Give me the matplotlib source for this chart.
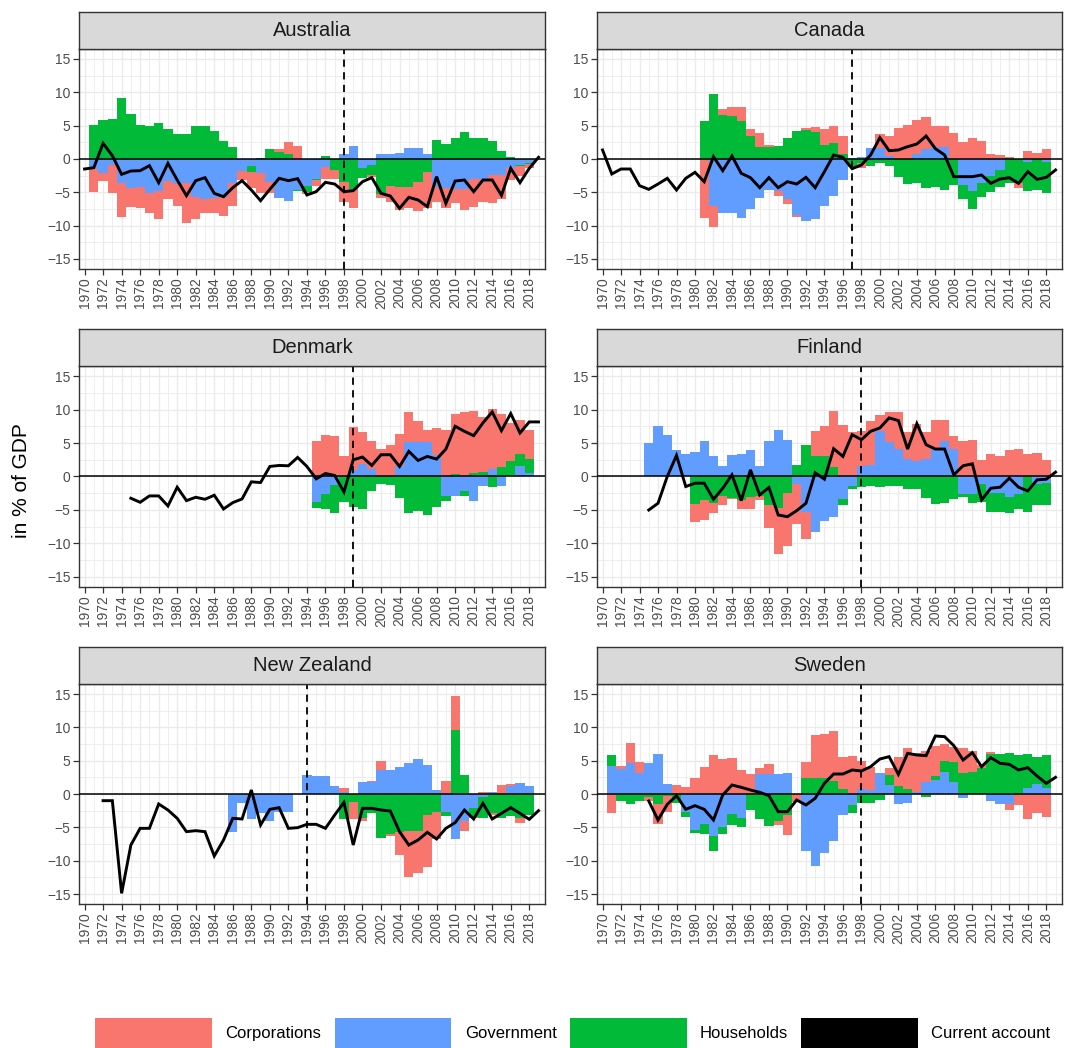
import numpy as np
import matplotlib
matplotlib.use("Agg")
import matplotlib.pyplot as plt
from matplotlib.patches import Patch

plt.rcParams['font.family'] = ['Liberation Sans', 'DejaVu Sans']

# ---- data (in % of GDP) ----
AUS_BAR_START = 1971
AUS_CORP = [-3.4, -1.25, -4.15, -5.0, -2.85, -3.1, -2.9, -4.2, -2.75, -3.25,
            -6.0, -3.3, -2.1, -2.25, -2.9, -3.45, -1.35, -2.4, -3.0, -1.7,
            0.4, 1.85, 1.95, -0.3, -0.85, -1.9, -1.4, -3.0, -2.8, 0.0,
            -0.35, -0.55, -2.35, -3.5, -3.25, -4.35, -5.5, -2.2, -2.9, -2.1,
            -3.1, -4.1, -3.35, -4.15, -3.6, -1.85, -1.5, -0.7]
AUS_GOV = [-1.5, -2.05, -0.9, -3.65, -4.3, -4.2, -5.15, -4.8, -3.3, -3.75,
           -3.65, -5.75, -6.05, -5.8, -5.7, -3.55, -1.8, -1.05, -2.15, -3.45,
           -5.8, -6.25, -4.6, -4.1, -3.0, -1.15, 0.0, 0.7, 1.95, -1.3,
           -0.95, 0.7, 0.7, 0.85, 1.6, 1.6, 0.75, -4.2, -4.4, -4.55,
           -4.55, -3.05, -3.05, -2.4, -2.4, -1.3, -0.9, -0.55]
AUS_HH = [5.1, 5.85, 6.0, 9.15, 6.75, 5.1, 4.95, 5.4, 4.5, 3.75,
          3.75, 5.0, 5.0, 4.25, 2.75, 1.8, 0.0, -0.85, 0.1, 1.5,
          1.1, 0.75, -0.15, -0.9, -0.15, 0.45, -1.65, -3.4, -4.5, -1.6,
          -1.45, -5.25, -4.05, -4.15, -4.15, -3.4, -1.9, 2.85, 2.25, 3.2,
          4.05, 3.15, 3.15, 2.75, 1.2, 0.3, -0.15, -0.15]
AUS_CA_START = 1970
AUS_CA = [-1.5, -1.3, 2.35, 0.5, -2.3, -1.8, -1.75, -1.0, -3.55, -0.65,
          -3.15, -5.5, -3.25, -2.8, -5.15, -5.65, -4.3, -3.25, -4.65, -6.25,
          -4.55, -2.9, -3.25, -2.95, -5.4, -4.9, -3.5, -3.75, -4.9, -4.75,
          -3.4, -2.8, -5.15, -5.55, -7.4, -5.75, -6.15, -7.15, -2.65, -6.65,
          -3.3, -3.15, -4.9, -3.15, -3.15, -5.45, -1.4, -3.55, -1.4, 0.25]

CAN_BAR_START = 1981
CAN_CORP = [-8.8, -3.15, 0.9, 1.35, 2.1, 1.0, 2.05, 0.3, -0.75, -0.7,
            -0.25, 0.2, 0.7, 2.35, 2.6, 2.7, 0.0, -0.7, 0.0, 2.1,
            3.1, 4.6, 5.1, 5.1, 4.75, 3.2, 3.2, 3.85, 2.6, 3.15,
            2.7, 0.75, 0.6, 0.25, -0.65, 1.2, 0.85, 1.5]
CAN_GOV = [0.0, -7.0, -8.05, -8.05, -8.8, -7.5, -5.8, -4.65, -4.8, -6.05,
           -8.4, -9.25, -9.0, -7.0, -5.5, -3.15, 0.1, 0.3, 1.6, 1.6,
           0.4, 0.0, 0.0, 0.75, 1.5, 1.75, 1.75, 0.0, -3.9, -4.8,
           -3.55, -2.55, -1.65, 0.0, 0.0, -0.5, 0.0, -0.4]
CAN_HH = [5.7, 9.75, 6.6, 6.45, 5.7, 3.5, 1.85, 1.85, 1.95, 3.15,
          4.2, 4.4, 4.05, 2.1, 2.35, 0.75, -1.2, -0.6, -1.05, -0.55,
          -1.05, -2.75, -3.75, -3.55, -4.4, -4.15, -4.65, -3.9, -2.15, -2.7,
          -2.2, -2.35, -2.6, -3.65, -3.65, -4.35, -4.65, -4.65]
CAN_CA_START = 1970
CAN_CA = [1.35, -2.25, -1.5, -1.5, -4.0, -4.55, -3.75, -2.9, -4.65, -2.9,
          -2.0, -3.4, 0.35, -1.75, 0.45, -2.15, -2.8, -4.3, -2.8, -4.3,
          -3.4, -3.75, -2.75, -4.3, -1.9, 0.6, 0.25, -1.45, -0.9, 0.6,
          3.2, 1.25, 1.35, 1.85, 2.25, 3.45, 1.55, 0.6, -2.65, -2.65,
          -2.65, -2.4, -3.65, -3.0, -2.8, -3.65, -1.9, -3.05, -2.75, -1.65]

DNK_BAR_START = 1995
DNK_CORP = [5.35, 6.25, 6.1, 3.1, 6.35, 4.7, 4.15, 4.1, 4.75, 4.9,
            4.55, 3.25, 1.9, 4.0, 7.0, 9.0, 9.65, 9.35, 8.2, 8.95,
            8.05, 5.75, 5.0, 4.4]
DNK_GOV = [-3.8, -2.6, -1.25, 0.0, 1.0, 1.9, 1.1, 0.0, 0.0, 1.5,
           5.1, 5.1, 5.1, 3.25, -2.85, -2.85, -2.15, -3.6, -1.35, 1.15,
           -1.35, 0.0, 1.6, 0.5]
DNK_HH = [-0.85, -2.3, -4.15, -3.75, -4.5, -4.9, -2.1, -1.1, -1.25, -3.25,
          -5.4, -5.15, -5.75, -4.5, -0.75, 0.4, -0.7, 0.5, 0.7, -1.5,
          1.35, 2.25, 1.8, 2.1]
DNK_CA_START = 1975
DNK_CA = [-3.25, -3.85, -2.9, -2.9, -4.4, -1.6, -3.6, -3.1, -3.4, -2.8,
          -4.85, -3.9, -3.35, -0.8, -0.9, 1.5, 1.65, 1.6, 2.85, 1.5,
          -0.35, 0.45, 0.15, -2.3, 2.5, 2.9, 1.65, 3.25, 3.25, 1.5,
          3.75, 2.4, 3.0, 2.6, 4.1, 7.5, 6.75, 6.1, 8.0, 9.65,
          6.85, 9.4, 6.5, 8.15, 8.15]

FIN_BAR_START = 1975
FIN_CORP = [0.0, 0.0, 0.0, 0.0, 0.0, -2.65, -3.0, -1.5, -1.35, -0.1,
            -1.4, -1.85, -0.6, -3.4, -6.85, -7.85, -6.05, -4.05, 3.65, 4.4,
            8.4, 7.75, 6.6, 5.15, 6.55, 2.4, 4.5, 5.45, 3.95, 5.65,
            3.95, 4.35, 3.2, 2.0, 5.25, 5.5, 2.5, 3.35, 3.1, 4.0,
            4.15, 3.4, 3.5, 2.5]
FIN_GOV = [5.0, 7.6, 6.25, 3.9, 3.4, 3.7, 5.25, 3.1, 1.6, 3.25,
           3.4, 3.9, 1.6, 5.25, 6.9, 5.4, -1.1, -5.35, -8.25, -6.6,
           -6.0, -3.4, -1.4, 1.6, 1.7, 6.85, 5.1, 4.15, 2.65, 2.25,
           2.65, 4.1, 5.25, 4.1, -2.6, -2.6, -1.1, -2.5, -2.5, -3.0,
           -2.6, 0.0, -1.1, -1.0]
FIN_HH = [0.0, 0.0, 0.0, 0.0, 0.0, -4.1, -3.5, -3.9, -2.9, -3.25,
          -3.5, -3.0, -2.9, -4.25, -4.65, -2.5, 1.75, 4.75, 3.1, 3.1,
          1.35, -0.85, -0.45, -1.6, -1.35, -1.6, -1.35, -1.35, -1.85, -1.85,
          -3.25, -4.1, -3.9, -3.35, -0.4, -1.4, -2.65, -2.75, -2.75, -2.4,
          -2.3, -5.25, -3.15, -3.25]
FIN_CA_START = 1975
FIN_CA = [-5.0, -4.0, 0.0, 3.15, -1.5, -1.0, -1.0, -3.4, -1.75, 0.25,
          -3.6, 1.0, -2.75, -1.65, -5.75, -6.0, -5.1, -4.0, 0.55, -0.4,
          4.15, 3.0, 6.25, 5.5, 6.75, 7.25, 8.75, 8.35, 4.1, 7.9,
          4.75, 4.1, 4.1, 0.25, 1.6, 1.9, -3.5, -1.75, -1.6, -0.25,
          -1.6, -2.15, -0.5, -0.4, 0.65]

NZL_BAR_START = 1986
NZL_CORP = [0.0, 0.0, 0.0, 0.0, 0.0, 0.0, 0.0, 0.0, 0.0, 0.0,
            0.0, 0.0, 0.6, -2.5, -0.35, 0.2, 1.35, -0.2, -3.5, -6.9,
            -6.3, -7.75, -4.15, 1.95, 5.1, -1.5, -0.15, 0.25, -0.35, 1.35,
            0.3, -0.75, 0.0]
NZL_GOV = [-5.65, -1.3, -3.8, -2.8, -4.0, -2.65, -2.65, 0.0, 2.85, 2.7,
           2.7, 1.2, 0.25, 0.0, 1.85, 1.75, 3.6, 3.6, 4.1, 4.7,
           5.25, 4.35, 0.6, -2.65, -6.8, -4.0, -2.15, -0.4, 0.25, 0.0,
           1.2, 1.6, 1.2]
NZL_HH = [0.0, 0.0, 0.0, 0.0, 0.0, 0.0, 0.0, 0.0, 0.0, 0.0,
          0.0, 0.0, -3.75, -1.2, -3.65, -2.9, -6.55, -6.05, -5.65, -5.5,
          -5.5, -3.15, -2.65, -0.6, 9.6, 2.85, -1.25, -3.15, -2.8, -3.55,
          -3.25, -3.55, -3.15]
NZL_CA_START = 1972
NZL_CA = [-1.0, -1.0, -14.9, -7.65, -5.15, -5.15, -1.5, -2.4, -3.65, -5.65,
          -5.5, -5.65, -9.3, -6.9, -3.65, -3.75, 0.6, -4.65, -2.3, -2.05,
          -5.15, -5.05, -4.55, -4.55, -5.15, -3.15, -1.25, -7.65, -2.15, -2.15,
          -2.4, -2.55, -5.65, -7.65, -6.9, -5.75, -6.75, -5.15, -4.3, -2.4,
          -3.75, -1.4, -3.75, -2.9, -2.05, -2.9, -3.8, -2.5]

SWE_BAR_START = 1971
SWE_CORP = [-2.8, 0.5, 3.0, 1.55, -0.7, -3.05, -2.35, 1.35, 1.0, 2.35,
            4.0, 5.85, 5.25, 5.45, 3.6, 3.0, 0.95, 1.5, -0.65, -3.0,
            -1.2, 2.4, 6.5, 6.6, 7.5, 4.85, 5.7, 4.2, 3.5, 0.0,
            1.0, 4.4, 6.2, 5.85, 4.7, 4.5, 2.55, 2.25, 3.65, 3.1,
            0.5, 0.4, 0.0, -0.85, -1.65, -3.75, -2.8, -3.4]
SWE_GOV = [4.2, 3.7, 4.7, 3.2, 4.7, 6.0, 1.5, 0.0, -2.65, -5.4,
           -4.55, -6.3, -4.9, -3.0, -3.65, 0.0, 3.0, 3.0, 3.0, 3.2,
           0.0, -8.5, -10.75, -8.8, -7.0, -3.15, -1.65, 0.75, 0.6, 3.2,
           1.35, -1.5, -1.3, 0.25, 1.75, 2.1, 3.35, 1.75, -0.65, 0.0,
           0.0, -1.0, -1.55, -1.55, 0.0, 0.95, 1.45, 0.85]
SWE_HH = [1.65, -1.0, -1.55, -1.0, -0.4, -1.5, -0.3, -1.4, -0.75, -0.5,
          -1.45, -2.2, -1.1, -1.65, -1.25, -2.4, -3.75, -4.75, -4.0, -3.15,
          0.0, 2.35, 2.35, 2.35, 1.95, 0.75, -1.15, -1.3, -1.3, -0.9,
          1.5, 1.2, 0.75, 0.0, -0.4, 0.6, 1.6, 3.1, 3.2, 3.35,
          3.85, 5.95, 6.0, 6.2, 5.85, 5.05, 4.15, 5.0]
SWE_CA_START = 1975
SWE_CA = [-1.05, -3.9, -1.55, -0.25, -2.3, -1.75, -2.3, -3.9, -0.15, 1.35,
          1.0, 0.6, 0.25, -0.25, -2.65, -2.65, -0.9, -1.65, -0.65, 1.6,
          3.0, 3.0, 3.6, 3.45, 4.1, 5.25, 5.6, 2.95, 6.1, 5.85,
          5.75, 8.7, 8.6, 7.25, 5.1, 6.2, 4.1, 5.45, 4.6, 4.45,
          3.6, 3.95, 2.7, 1.6, 2.5]

COUNTRIES = ["Australia", "Canada", "Denmark", "Finland", "New Zealand", "Sweden"]
BREAK_YEARS = [1998, 1997, 1999, 1998, 1994, 1998]

C_CORP = "#F8766D"
C_GOV = "#619CFF"
C_HH = "#00BA38"

panels = [
    (AUS_BAR_START, AUS_CORP, AUS_GOV, AUS_HH, AUS_CA_START, AUS_CA),
    (CAN_BAR_START, CAN_CORP, CAN_GOV, CAN_HH, CAN_CA_START, CAN_CA),
    (DNK_BAR_START, DNK_CORP, DNK_GOV, DNK_HH, DNK_CA_START, DNK_CA),
    (FIN_BAR_START, FIN_CORP, FIN_GOV, FIN_HH, FIN_CA_START, FIN_CA),
    (NZL_BAR_START, NZL_CORP, NZL_GOV, NZL_HH, NZL_CA_START, NZL_CA),
    (SWE_BAR_START, SWE_CORP, SWE_GOV, SWE_HH, SWE_CA_START, SWE_CA),
]

W, H = 1067, 1048
fig = plt.figure(figsize=(W / 100, H / 100), dpi=100)


def px_axes(left, top, right, bottom):
    return fig.add_axes([left / W, 1 - bottom / H, (right - left) / W, (bottom - top) / H])


cols = [(79, 545), (597, 1062)]
rows = [(49, 269), (366, 587), (684, 904)]
STRIP_H = 37

for i, (name, brk, p) in enumerate(zip(COUNTRIES, BREAK_YEARS, panels)):
    bar_start, corp, gov, hh, ca_start, ca = p
    l, r = cols[i % 2]
    t, b = rows[i // 2]
    ax = px_axes(l, t, r, b)

    years = np.arange(bar_start, bar_start + len(corp))
    pos_base = np.zeros(len(years))
    neg_base = np.zeros(len(years))
    # government nearest to zero, then households, corporations outermost
    for vals, col in [(gov, C_GOV), (hh, C_HH), (corp, C_CORP)]:
        v = np.asarray(vals, dtype=float)
        pos = np.clip(v, 0, None)
        neg = np.clip(v, None, 0)
        ax.bar(years, pos, bottom=pos_base, width=1.0, color=col, linewidth=0, zorder=2)
        ax.bar(years, neg, bottom=neg_base, width=1.0, color=col, linewidth=0, zorder=2)
        pos_base += pos
        neg_base += neg

    ax.axhline(0, color="black", lw=1.1, zorder=3)
    ax.axvline(brk, color="black", lw=1.3, ls=(0, (4, 3)), zorder=3)
    ca_years = np.arange(ca_start, ca_start + len(ca))
    ax.plot(ca_years, ca, color="black", lw=2.1, zorder=4, solid_joinstyle="miter")

    ax.set_xlim(1969.4, 2019.7)
    ax.set_ylim(-16.5, 16.5)
    ax.set_xticks(np.arange(1970, 2019, 2))
    ax.set_xticks(np.arange(1971, 2020, 2), minor=True)
    ax.set_yticks([-15, -10, -5, 0, 5, 10, 15])
    ax.set_yticks([-12.5, -7.5, -2.5, 2.5, 7.5, 12.5], minor=True)
    ax.set_yticklabels(["\u221215", "\u221210", "\u22125", "0", "5", "10", "15"])
    ax.set_xticklabels([str(y) for y in range(1970, 2019, 2)], rotation=90)
    ax.tick_params(which="major", length=4, width=0.9, color="#333333",
                   labelsize=10, labelcolor="#4D4D4D", pad=2)
    ax.tick_params(which="minor", length=0)
    ax.grid(True, which="major", color="#EBEBEB", lw=1.0, zorder=0)
    ax.grid(True, which="minor", color="#EBEBEB", lw=0.6, zorder=0)
    ax.set_axisbelow(True)
    for s in ax.spines.values():
        s.set_color("#333333")
        s.set_linewidth(1.0)

    sax = px_axes(l, t - STRIP_H, r, t)
    sax.set_facecolor("#D9D9D9")
    sax.set_xticks([])
    sax.set_yticks([])
    for s in sax.spines.values():
        s.set_color("#333333")
        s.set_linewidth(1.0)
    sax.text(0.5, 0.5, name, ha="center", va="center", fontsize=14.5,
             color="#1A1A1A", transform=sax.transAxes)

fig.text(22 / W, 1 - 481 / H, "in % of GDP", rotation=90, ha="center", va="center",
         fontsize=15, color="black")

handles = [Patch(facecolor=C_CORP, edgecolor="none"),
           Patch(facecolor=C_GOV, edgecolor="none"),
           Patch(facecolor=C_HH, edgecolor="none"),
           Patch(facecolor="black", edgecolor="none")]
labels = ["Corporations", "Government", "Households", "Current account"]
fig.legend(handles, labels, loc="lower center", bbox_to_anchor=(573 / W, 0), ncol=4,
           frameon=False, handlelength=7, handleheight=2.4, handletextpad=0.8,
           columnspacing=0.8, borderaxespad=0, borderpad=0, fontsize=12)

fig.savefig("out.png", dpi=100)
